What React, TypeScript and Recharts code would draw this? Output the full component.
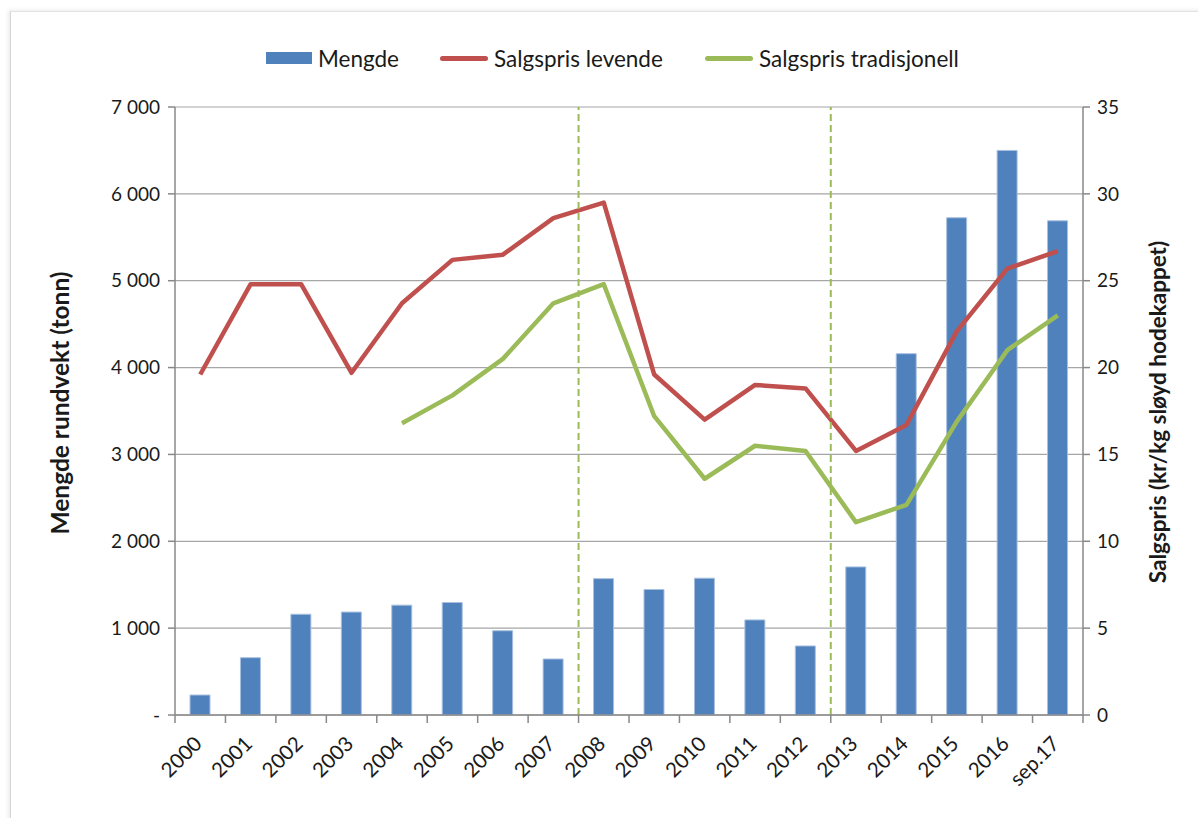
import {
  Bar,
  ComposedChart,
  CartesianGrid,
  Label,
  Line,
  ReferenceLine,
  XAxis,
  YAxis,
} from "recharts";

const years = [
  "2000", "2001", "2002", "2003", "2004", "2005", "2006", "2007", "2008",
  "2009", "2010", "2011", "2012", "2013", "2014", "2015", "2016", "sep.17",
];
const mengde = [
  230, 660, 1160, 1185, 1265, 1295, 970, 645, 1570,
  1445, 1575, 1095, 795, 1705, 4160, 5725, 6500, 5690,
];
const prisLevende = [
  19.6, 24.8, 24.8, 19.7, 23.7, 26.2, 26.5, 28.6, 29.5,
  19.6, 17.0, 19.0, 18.8, 15.2, 16.7, 22.1, 25.7, 26.7,
];
const prisTradisjonell = [
  null, null, null, null, 16.8, 18.4, 20.5, 23.7, 24.8,
  17.2, 13.6, 15.5, 15.2, 11.1, 12.1, 16.9, 21.0, 23.0,
];
const leftTicks = [0, 1000, 2000, 3000, 4000, 5000, 6000, 7000];
const rightTicks = [0, 5, 10, 15, 20, 25, 30, 35];
const periodStarts = ["2008", "2013"];

const data = years.map((year, i) => ({
  year,
  mengde: mengde[i],
  levende: prisLevende[i],
  tradisjonell: prisTradisjonell[i],
}));

const FONT = "Lato, 'Open Sans', sans-serif";
const TEXT = "#1a1a1a";
const BLUE = "#4F81BD";
const RED = "#C0504D";
const GREEN = "#9BBB59";

const PLOT_LEFT = 175;
const PLOT_RIGHT = 1083;
const BAND = (PLOT_RIGHT - PLOT_LEFT) / years.length;

const fmtThousands = (v: number) =>
  v === 0 ? "-" : String(v).replace(/\B(?=(\d{3})+(?!\d))/g, " ");

function YearTick(props: any) {
  const { x, y, payload, index } = props;
  const last = index === years.length - 1;
  return (
    <g>
      <line x1={x - BAND / 2} x2={x - BAND / 2} y1={y - 8} y2={y} stroke="#888" strokeWidth={1.5} />
      {last && (
        <line x1={x + BAND / 2} x2={x + BAND / 2} y1={y - 8} y2={y} stroke="#888" strokeWidth={1.5} />
      )}
      <text
        x={x + 3}
        y={y + 22}
        transform={`rotate(-45 ${x + 3} ${y + 22})`}
        textAnchor="end"
        fontSize={20.5}
        fontFamily={FONT}
        fill={TEXT}
      >
        {payload.value}
      </text>
    </g>
  );
}

function Legend() {
  const item = (swatch: any, label: string, left: number) => (
    <div style={{ position: "absolute", left, top: 43, height: 30, display: "flex", alignItems: "center" }}>
      {swatch}
      <span style={{ fontFamily: FONT, fontSize: 22.5, color: TEXT, marginLeft: 6 }}>{label}</span>
    </div>
  );
  return (
    <>
      {item(<div style={{ width: 46, height: 12, background: BLUE }} />, "Mengde", 266)}
      {item(<div style={{ width: 48, height: 5, borderRadius: 3, background: RED }} />, "Salgspris levende", 440)}
      {item(<div style={{ width: 48, height: 5, borderRadius: 3, background: GREEN }} />, "Salgspris tradisjonell", 705)}
    </>
  );
}

function App() {
  return (
    <div style={{ position: "absolute", left: 0, top: 0, width: 1198, height: 818, overflow: "hidden", background: "#fff" }}>
      <div
        style={{
          position: "absolute",
          left: 10,
          top: 11,
          width: 1220,
          height: 840,
          borderTop: "1px solid #e2e2e2",
          borderLeft: "1px solid #d6d6d6",
          boxShadow: "-2px -1px 4px rgba(0,0,0,0.08)",
        }}
      />
      <Legend />
      <div style={{ position: "absolute", left: 0, top: 0 }}>
        <ComposedChart
          width={1198}
          height={818}
          data={data}
          margin={{ top: 107, right: 0, bottom: 0, left: 0 }}
        >
          <CartesianGrid vertical={false} stroke="#a6a6a6" strokeWidth={1.2} yAxisId="left" />
          <XAxis
            dataKey="year"
            height={103}
            axisLine={{ stroke: "#888", strokeWidth: 1.5 }}
            tickLine={false}
            interval={0}
            tick={<YearTick />}
          />
          <YAxis
            yAxisId="left"
            width={PLOT_LEFT}
            domain={[0, 7000]}
            ticks={leftTicks}
            tickFormatter={fmtThousands}
            axisLine={{ stroke: "#888", strokeWidth: 1.5 }}
            tickLine={{ stroke: "#888", strokeWidth: 1.5 }}
            tickSize={7}
            tickMargin={8}
            tick={{ fontSize: 19, fontFamily: FONT, fill: TEXT }}
          >
            <Label
              content={() => (
                <text
                  x={69}
                  y={403}
                  transform="rotate(-90 69 403)"
                  textAnchor="middle"
                  fontSize={24.5}
                  fontWeight="bold"
                  fontFamily={FONT}
                  fill={TEXT}
                >
                  Mengde rundvekt (tonn)
                </text>
              )}
            />
          </YAxis>
          <YAxis
            yAxisId="right"
            orientation="right"
            width={1198 - PLOT_RIGHT}
            domain={[0, 35]}
            ticks={rightTicks}
            axisLine={{ stroke: "#888", strokeWidth: 1.5 }}
            tickLine={{ stroke: "#888", strokeWidth: 1.5 }}
            tickSize={7}
            tickMargin={7}
            tick={{ fontSize: 19, fontFamily: FONT, fill: TEXT, textAnchor: "start" }}
          >
            <Label
              content={() => (
                <text
                  x={1166}
                  y={412}
                  transform="rotate(-90 1166 412)"
                  textAnchor="middle"
                  fontSize={22.5}
                  fontWeight="bold"
                  fontFamily={FONT}
                  fill={TEXT}
                >
                  Salgspris  (kr/kg sløyd hodekappet)
                </text>
              )}
            />
          </YAxis>
          <Bar
            yAxisId="left"
            dataKey="mengde"
            fill={BLUE}
            stroke="#a9c1e0"
            strokeWidth={1}
            barSize={20}
            isAnimationActive={false}
          />
          <Line
            yAxisId="right"
            dataKey="levende"
            stroke={RED}
            strokeWidth={4.5}
            dot={false}
            strokeLinejoin="round"
            isAnimationActive={false}
          />
          <Line
            yAxisId="right"
            dataKey="tradisjonell"
            stroke={GREEN}
            strokeWidth={4.5}
            dot={false}
            strokeLinejoin="round"
            isAnimationActive={false}
          />
          {periodStarts.map((p) => (
            <ReferenceLine
              key={p}
              yAxisId="left"
              x={p}
              position="start"
              stroke={GREEN}
              strokeWidth={2}
              strokeDasharray="7 4"
            />
          ))}
        </ComposedChart>
      </div>
    </div>
  );
}

export default App;
